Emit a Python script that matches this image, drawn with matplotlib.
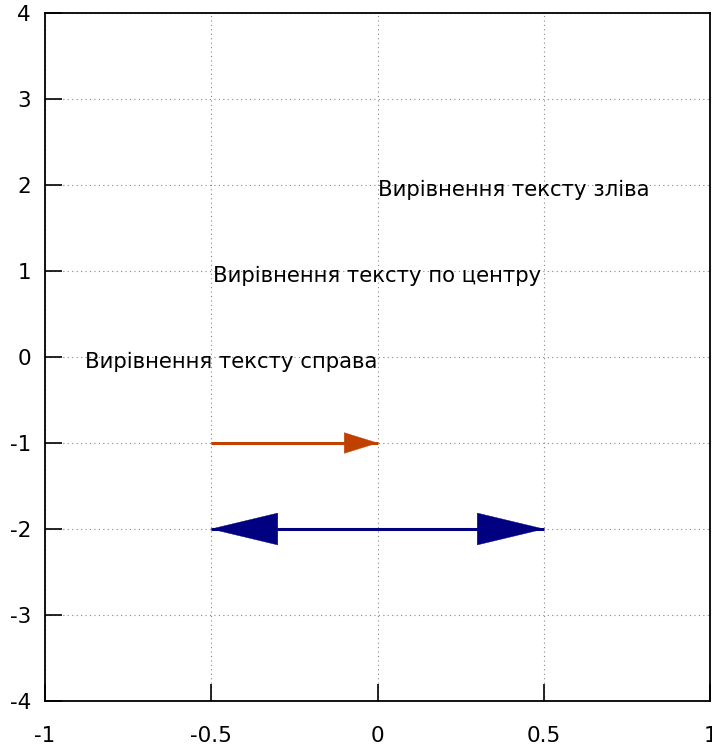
import numpy as np
import matplotlib
matplotlib.use('Agg')
import matplotlib.pyplot as plt

# Axis ranges and ticks
x_ticks = [-1, -0.5, 0, 0.5, 1]
x_labels = ['-1', '-0.5', '0', '0.5', '1']
y_ticks = [-4, -3, -2, -1, 0, 1, 2, 3, 4]
y_labels = ['-4', '-3', '-2', '-1', '0', '1', '2', '3', '4']

# Text labels
text_x = [0, 0, 0]
text_y = [2, 1, 0]
text_str = ['Вирівнення тексту зліва', 'Вирівнення тексту по центру', 'Вирівнення тексту справа']
text_ha = ['left', 'center', 'right']

# Arrows
arrow1_start = (-0.5, -1)
arrow1_end = (0, -1)
arrow2_start = (-0.5, -2)
arrow2_end = (0.5, -2)

plt.rcParams['font.family'] = ['DejaVu Sans']

fig = plt.figure(figsize=(7.12, 7.45), dpi=100)
ax = fig.add_axes([45/712, 1-701/745, 665/712, 688/745])

ax.set_xlim(-1, 1)
ax.set_ylim(-4, 4)
ax.set_xticks(x_ticks)
ax.set_xticklabels(x_labels)
ax.set_yticks(y_ticks)
ax.set_yticklabels(y_labels)
ax.tick_params(direction='in', length=12, width=1.2, labelsize=15.5)
ax.tick_params(axis='x', pad=18)
ax.tick_params(axis='y', pad=10)
ax.grid(True, linestyle=(0, (1, 3)), color='#888888', linewidth=0.8)
for s in ax.spines.values():
    s.set_linewidth(1.3)

for x, y, t, ha in zip(text_x, text_y, text_str, text_ha):
    ax.annotate(t, (x, y), xytext=(0, -8), textcoords='offset points',
                ha=ha, va='baseline', fontsize=15.3)

# Single-headed arrow: shaft + head
ax.plot([arrow1_start[0], arrow1_end[0]], [arrow1_start[1], arrow1_end[1]],
        color='#c04000', lw=2.2, solid_capstyle='butt', zorder=3)
ax.arrow(arrow1_start[0], arrow1_start[1],
         arrow1_end[0] - arrow1_start[0], arrow1_end[1] - arrow1_start[1],
         width=0.001, head_width=0.24, head_length=0.1,
         length_includes_head=True, color='#c04000', lw=0.3, zorder=3)

# Double-headed arrow: shaft + two heads drawn outward from the midpoint
ax.plot([arrow2_start[0], arrow2_end[0]], [arrow2_start[1], arrow2_end[1]],
        color='#000080', lw=2.2, solid_capstyle='butt', zorder=3)
mid = ((arrow2_start[0] + arrow2_end[0]) / 2, (arrow2_start[1] + arrow2_end[1]) / 2)
for end in (arrow2_start, arrow2_end):
    ax.arrow(mid[0], mid[1], end[0] - mid[0], end[1] - mid[1],
             width=0.001, head_width=0.37, head_length=0.2,
             length_includes_head=True, color='#000080', lw=0.3, zorder=3)

fig.savefig('out.png', dpi=100)
